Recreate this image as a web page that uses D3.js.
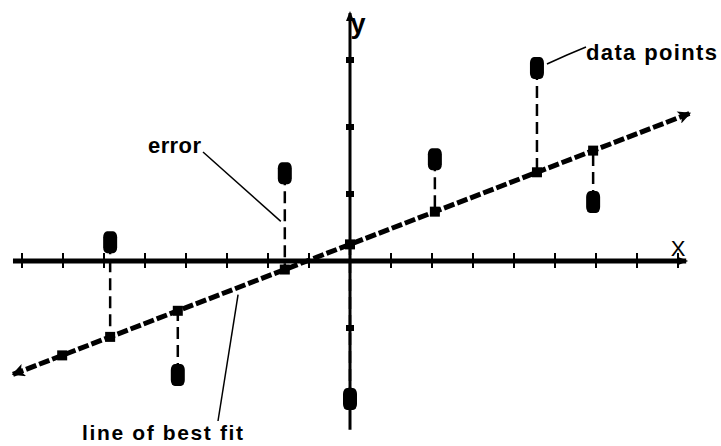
<!DOCTYPE html>
<html>
<head>
<meta charset="utf-8">
<script src="https://cdn.jsdelivr.net/npm/d3@7"></script>
<style>
  body { margin: 0; background: #fff; }
  text { font-family: "Liberation Sans", Arial, sans-serif; }
</style>
</head>
<body>
<script>
// data (x in tick units, y in tick units)
const pointX = [-5.85, -4.2, -1.59, 0, 2.07, 4.56, 5.93];
const pointY = [0.28, -1.70, 1.31, -2.06, 1.52, 2.88, 0.88];
const fitSlope = 0.236;
const fitIntercept = 0.248;
const fitRange = [-8.22, 8.29];
const extraFitMarks = [-7.02];
const xTicks = [-8, -7, -6, -5, -4, -3, -2, -1, 1, 2, 3, 4, 5, 6, 7, 8];
const yTicks = [-2, -1, 1, 2, 3];

const width = 721, height = 446;

let svg = d3.select("body")
    .append("svg")
    .attr("width", width)
    .attr("height", height);

let x = d3.scaleLinear().domain([-8, 8]).range([22, 678]);
let y = d3.scaleLinear().domain([-2, 3]).range([395, 60]);
let fit = u => fitSlope * u + fitIntercept;

let defs = svg.append("defs");
defs.append("marker")
    .attr("id", "arrow")
    .attr("viewBox", "0 0 10 10")
    .attr("refX", 9).attr("refY", 5)
    .attr("markerUnits", "userSpaceOnUse")
    .attr("markerWidth", 22).attr("markerHeight", 13)
    .attr("orient", "auto-start-reverse")
    .append("path")
    .attr("d", "M0,0 L10,5 L0,10 L2.5,5 Z")
    .attr("fill", "#000");
defs.append("marker")
    .attr("id", "small-arrow")
    .attr("viewBox", "0 0 10 10")
    .attr("refX", 8).attr("refY", 5)
    .attr("markerUnits", "userSpaceOnUse")
    .attr("markerWidth", 12).attr("markerHeight", 10)
    .attr("orient", "auto")
    .append("path")
    .attr("d", "M0,1 L10,5 L0,9 Z")
    .attr("fill", "#000");

// x axis
svg.append("line")
    .attr("x1", x(-8.22)).attr("x2", x(8.2))
    .attr("y1", y(0)).attr("y2", y(0))
    .attr("stroke", "#000").attr("stroke-width", 5)
    .attr("marker-end", "url(#small-arrow)");

svg.append("g").selectAll("line")
    .data(xTicks)
    .enter()
    .append("line")
    .attr("x1", d => x(d)).attr("x2", d => x(d))
    .attr("y1", y(0) - 8).attr("y2", y(0) + 7)
    .attr("stroke", "#000").attr("stroke-width", 2);

// y axis
svg.append("line")
    .attr("x1", x(0)).attr("x2", x(0))
    .attr("y1", y(-2.52)).attr("y2", y(3.7))
    .attr("stroke", "#000").attr("stroke-width", 3)
    .attr("marker-end", "url(#small-arrow)");

svg.append("g").selectAll("rect")
    .data(yTicks)
    .enter()
    .append("rect")
    .attr("x", x(0) - 4).attr("y", d => y(d) - 3)
    .attr("width", 8).attr("height", 6)
    .attr("fill", "#000");

// axis labels
svg.append("text")
    .attr("x", x(0) + 8).attr("y", y(3.4))
    .attr("text-anchor", "middle")
    .attr("font-size", 27).attr("font-weight", "bold")
    .text("y");
svg.append("text")
    .attr("x", x(8)).attr("y", y(0) - 5)
    .attr("text-anchor", "middle")
    .attr("font-size", 22)
    .text("X");

// line of best fit
svg.append("line")
    .attr("x1", x(fitRange[0])).attr("y1", y(fit(fitRange[0])))
    .attr("x2", x(fitRange[1])).attr("y2", y(fit(fitRange[1])))
    .attr("stroke", "#000").attr("stroke-width", 5)
    .attr("stroke-dasharray", "11,3")
    .attr("marker-start", "url(#arrow)")
    .attr("marker-end", "url(#arrow)");

// error lines
let points = pointX.map((d, i) => ({x: d, y: pointY[i]}));

svg.append("g").selectAll("line")
    .data(points)
    .enter()
    .append("line")
    .attr("x1", d => x(d.x)).attr("x2", d => x(d.x))
    .attr("y1", d => y(d.y)).attr("y2", d => y(fit(d.x)))
    .attr("stroke", "#000").attr("stroke-width", 2.5)
    .attr("stroke-dasharray", "12,6");

// marks on the fit line
svg.append("g").selectAll("rect")
    .data(pointX.concat(extraFitMarks))
    .enter()
    .append("rect")
    .attr("x", d => x(d) - 5).attr("y", d => y(fit(d)) - 5)
    .attr("width", 10).attr("height", 10)
    .attr("fill", "#000");

// data points
svg.append("g").selectAll("rect")
    .data(points)
    .enter()
    .append("rect")
    .attr("x", d => x(d.x) - 7).attr("y", d => y(d.y) - 11)
    .attr("width", 14).attr("height", 22)
    .attr("rx", 4).attr("ry", 6)
    .attr("fill", "#000");

// annotations
let ptE = points[5], ptC = points[2];

svg.append("path")
    .attr("d", "M" + (x(ptE.x) + 10) + "," + (y(ptE.y) - 4) +
        " L" + (x(ptE.x) + 30) + "," + (y(ptE.y) - 13) +
        " L586,47")
    .attr("fill", "none").attr("stroke", "#000").attr("stroke-width", 1.5);
svg.append("text")
    .attr("x", 586).attr("y", 60)
    .attr("font-size", 22).attr("font-weight", "bold")
    .attr("textLength", 131).attr("lengthAdjust", "spacing")
    .text("data points");

svg.append("line")
    .attr("x1", 203).attr("y1", 152)
    .attr("x2", x(ptC.x) - 4).attr("y2", (y(ptC.y) + y(fit(ptC.x))) / 2)
    .attr("stroke", "#000").attr("stroke-width", 1.5);
svg.append("text")
    .attr("x", 148).attr("y", 153)
    .attr("font-size", 22).attr("font-weight", "bold")
    .attr("textLength", 53).attr("lengthAdjust", "spacing")
    .text("error");

let lx = -2.73;
svg.append("line")
    .attr("x1", x(lx)).attr("y1", y(fit(lx)) + 7)
    .attr("x2", 218).attr("y2", 421)
    .attr("stroke", "#000").attr("stroke-width", 1.5);
svg.append("text")
    .attr("x", 82).attr("y", 440)
    .attr("font-size", 21).attr("font-weight", "bold")
    .attr("textLength", 161).attr("lengthAdjust", "spacing")
    .text("line of best fit");
</script>
</body>
</html>
